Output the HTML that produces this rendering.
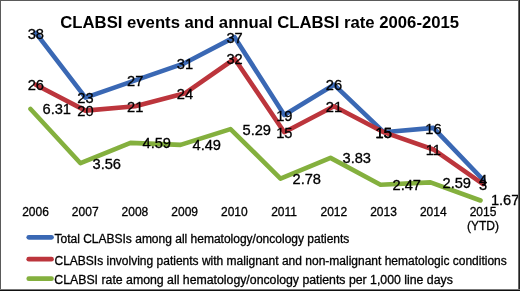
<!DOCTYPE html>
<html><head><meta charset="utf-8"><style>
html,body{margin:0;padding:0;background:#fff;}
svg{display:block;will-change:transform;font-family:"Liberation Sans",sans-serif;}
</style></head><body>
<svg width="520" height="291" viewBox="0 0 520 291">
<rect x="0" y="0" width="520" height="291" fill="#fff"/>
<text x="259.7" y="28.0" text-anchor="middle" font-weight="bold" font-size="16.7" fill="#000">CLABSI events and annual CLABSI rate 2006-2015</text>
<g fill="none" stroke-width="4.6" stroke-linejoin="round" stroke-linecap="round">
<polyline points="35.80,32.84 85.50,97.64 135.20,80.36 184.90,63.08 234.60,37.16 284.30,114.92 334.00,84.68 383.70,132.20 433.40,127.88 483.10,179.72" stroke="#3A68B4"/>
<polyline points="35.80,84.68 85.50,110.60 135.20,106.28 184.90,93.32 234.60,58.76 284.30,132.20 334.00,106.28 383.70,132.20 433.40,149.48 483.10,184.04" stroke="#BC353C"/>
<polyline points="30.50,108.97 80.50,163.20 130.50,142.89 180.50,144.86 230.50,129.08 280.50,178.58 330.50,157.87 380.50,184.69 430.50,182.33 480.50,200.47" stroke="#84B03E"/>
</g>
<g font-size="14.67" fill="#000" stroke="#000" stroke-width="0.3">
<text x="35.80" y="38.54" text-anchor="middle">38</text>
<text x="85.50" y="103.34" text-anchor="middle">23</text>
<text x="135.20" y="86.06" text-anchor="middle">27</text>
<text x="184.90" y="68.78" text-anchor="middle">31</text>
<text x="234.60" y="42.86" text-anchor="middle">37</text>
<text x="284.30" y="120.62" text-anchor="middle">19</text>
<text x="334.00" y="90.38" text-anchor="middle">26</text>
<text x="383.70" y="137.90" text-anchor="middle">15</text>
<text x="433.40" y="133.58" text-anchor="middle">16</text>
<text x="483.10" y="185.42" text-anchor="middle">4</text>
<text x="35.80" y="90.38" text-anchor="middle">26</text>
<text x="85.50" y="116.30" text-anchor="middle">20</text>
<text x="135.20" y="111.98" text-anchor="middle">21</text>
<text x="184.90" y="99.02" text-anchor="middle">24</text>
<text x="234.60" y="64.46" text-anchor="middle">32</text>
<text x="284.30" y="137.90" text-anchor="middle">15</text>
<text x="334.00" y="111.98" text-anchor="middle">21</text>
<text x="383.70" y="137.90" text-anchor="middle">15</text>
<text x="433.40" y="155.18" text-anchor="middle">11</text>
<text x="483.10" y="189.74" text-anchor="middle">3</text>
<text x="42.50" y="114.47">6.31</text>
<text x="92.50" y="168.70">3.56</text>
<text x="142.50" y="148.39">4.59</text>
<text x="192.50" y="150.36">4.49</text>
<text x="242.50" y="134.58">5.29</text>
<text x="292.50" y="184.08">2.78</text>
<text x="342.50" y="163.37">3.83</text>
<text x="392.50" y="190.19">2.47</text>
<text x="442.50" y="187.83">2.59</text>
<text x="490.90" y="205.27">1.67</text>
</g>
<g font-size="12" fill="#000" stroke="#000" stroke-width="0.3">
<text x="35.50" y="215.5" text-anchor="middle">2006</text>
<text x="85.22" y="215.5" text-anchor="middle">2007</text>
<text x="134.94" y="215.5" text-anchor="middle">2008</text>
<text x="184.66" y="215.5" text-anchor="middle">2009</text>
<text x="234.38" y="215.5" text-anchor="middle">2010</text>
<text x="284.10" y="215.5" text-anchor="middle">2011</text>
<text x="333.82" y="215.5" text-anchor="middle">2012</text>
<text x="383.54" y="215.5" text-anchor="middle">2013</text>
<text x="433.26" y="215.5" text-anchor="middle">2014</text>
<text x="482.98" y="215.5" text-anchor="middle">2015</text>
<text x="482.98" y="229.5" text-anchor="middle">(YTD)</text>
</g>
<g stroke-width="4.8" stroke-linecap="round">
<line x1="28.8" y1="237.3" x2="51.5" y2="237.3" stroke="#3A68B4"/>
<line x1="28.8" y1="259.2" x2="51.5" y2="259.2" stroke="#BC353C"/>
<line x1="28.8" y1="278.7" x2="51.5" y2="278.7" stroke="#84B03E"/>
</g>
<g font-size="12" fill="#000" stroke="#000" stroke-width="0.3">
<text x="54.5" y="243.1">Total CLABSIs among all hematology/oncology patients</text>
<text x="54.5" y="265.0">CLABSIs involving patients with malignant and non-malignant hematologic conditions</text>
<text x="54.3" y="284.4" font-size="12.3">CLABSI rate among all hematology/oncology patients per 1,000 line days</text>
</g>
<rect x="0" y="0" width="520" height="1" fill="#5a5a5a"/>
<rect x="0" y="0" width="1" height="291" fill="#5a5a5a"/>
<rect x="518" y="0" width="1" height="291" fill="#666"/>
<rect x="519" y="0" width="1" height="291" fill="#222"/>
<rect x="0" y="289" width="520" height="1" fill="#777"/>
<rect x="0" y="290" width="520" height="1" fill="#111"/>
</svg>
</body></html>
